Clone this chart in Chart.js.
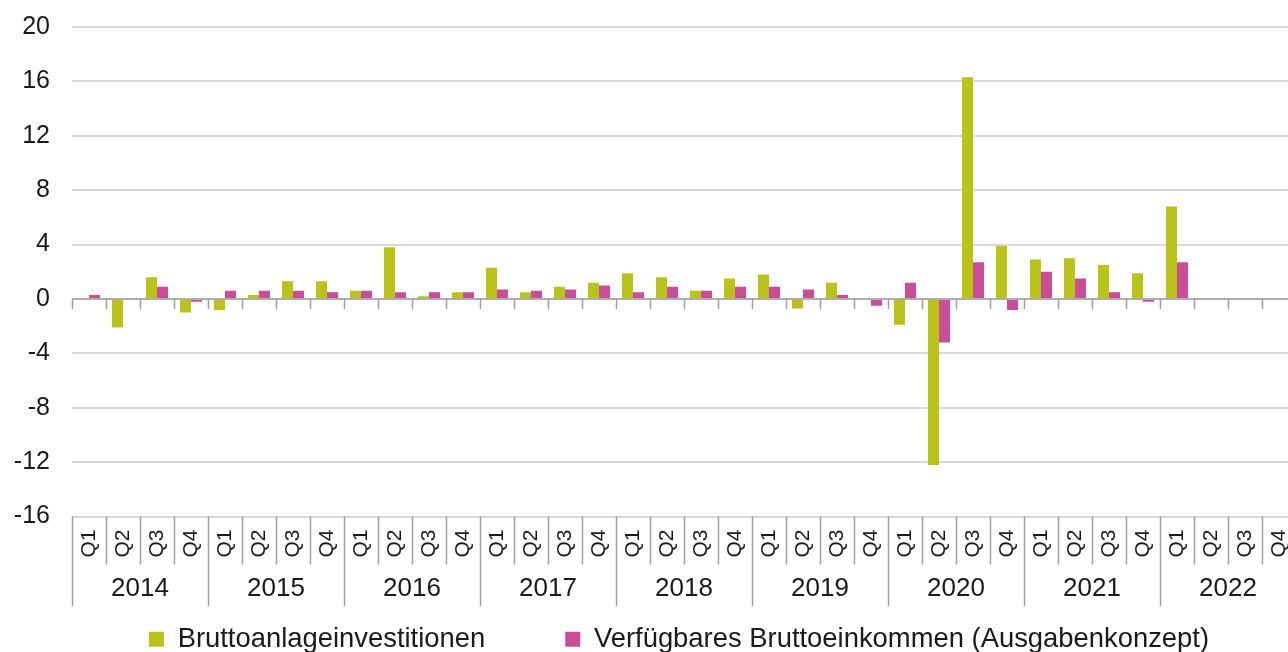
<!DOCTYPE html>
<html>
<head>
<meta charset="utf-8">
<script src="https://cdn.jsdelivr.net/npm/chart.js@4/dist/chart.umd.min.js"></script>
<style>
  html, body { margin: 0; padding: 0; background: #fff; overflow: hidden; }
  #wrap { position: absolute; left: 0; top: 0; }
</style>
</head>
<body>
<div id="wrap"><canvas id="myChart" width="1360" height="684"></canvas></div>
<script>
  const years = ['2014', '2015', '2016', '2017', '2018', '2019', '2020', '2021', '2022'];
  const quarters = ['Q1', 'Q2', 'Q3', 'Q4'];
  const yTicks = [-16, -12, -8, -4, 0, 4, 8, 12, 16, 20];

  // Veränderung ggü. Vorquartal in %
  const bruttoanlage = [0.0, -2.1, 1.6, -1.0, -0.8, 0.3, 1.3, 1.3, 0.6, 3.8, 0.2, 0.5,
    2.3, 0.5, 0.9, 1.2, 1.9, 1.6, 0.6, 1.5, 1.8, -0.7, 1.2, 0.0,
    -1.9, -12.2, 16.3, 3.9, 2.9, 3.0, 2.5, 1.9, 6.8, null, null, null];
  const einkommen = [0.3, 0.0, 0.9, -0.2, 0.6, 0.6, 0.6, 0.5, 0.6, 0.5, 0.5, 0.5,
    0.7, 0.6, 0.7, 1.0, 0.5, 0.9, 0.6, 0.9, 0.9, 0.7, 0.3, -0.5,
    1.2, -3.2, 2.7, -0.8, 2.0, 1.5, 0.5, -0.2, 2.7, null, null, null];

  const labels = [];
  years.forEach(() => quarters.forEach(q => labels.push(q)));

  const FONT = "'Liberation Sans', Arial, sans-serif";
  const lineGray = '#a0a0a0';

  // Achse bei 0 mit Teilstrichen, Trennlinien und Jahreszahlen unten
  const axisDecor = {
    id: 'axisDecor',
    afterLayout(chart) {
      // Legende etwas nach rechts/oben, wie im Original
      const lg = chart.legend;
      lg.left += 31; lg.right += 31;
      lg.top -= 21; lg.bottom -= 21;
    },
    afterDraw(chart) {
      const { ctx, chartArea, scales: { x, y } } = chart;
      const y0 = y.getPixelForValue(0);
      ctx.save();
      ctx.strokeStyle = lineGray;
      ctx.lineWidth = 1.5;
      ctx.beginPath();
      ctx.moveTo(chartArea.left, y0);
      ctx.lineTo(chartArea.right, y0);
      for (let i = 0; i <= labels.length; i++) {
        const px = Math.round(x.getPixelForValue(i - 0.5)) + 0.5;
        ctx.moveTo(px, y0);
        ctx.lineTo(px, y0 + 10);
        const len = i % 4 === 0 ? 90 : 48;
        ctx.moveTo(px, chartArea.bottom);
        ctx.lineTo(px, chartArea.bottom + len);
      }
      ctx.stroke();

      ctx.fillStyle = '#1a1a1a';
      ctx.font = '26px ' + FONT;
      ctx.textAlign = 'center';
      ctx.textBaseline = 'middle';
      years.forEach((yr, k) => {
        const cx = (x.getPixelForValue(k * 4) + x.getPixelForValue(k * 4 + 3)) / 2;
        ctx.fillText(yr, cx, chartArea.bottom + 72);
      });
      ctx.restore();
    }
  };

  const ctx = document.getElementById('myChart');

  new Chart(ctx, {
    type: 'bar',
    data: {
      labels: labels,
      datasets: [{
        label: 'Bruttoanlageinvestitionen',
        data: bruttoanlage,
        backgroundColor: '#b9c31c',
        borderWidth: 0,
        categoryPercentage: 0.65,
        barPercentage: 1.0,
      },
      {
        label: 'Verfügbares Bruttoeinkommen (Ausgabenkonzept)',
        data: einkommen,
        backgroundColor: '#c84e98',
        borderWidth: 0,
        categoryPercentage: 0.65,
        barPercentage: 1.0,
      }]
    },
    options: {
      responsive: false,
      animation: false,
      devicePixelRatio: 1,
      layout: { padding: { left: 0, right: 64, top: 27, bottom: 0 } },
      plugins: {
        tooltip: { enabled: false },
        legend: {
          position: 'bottom',
          labels: {
            boxWidth: 15,
            boxHeight: 15,
            padding: 80,
            color: '#1a1a1a',
            font: { family: FONT, size: 27.4 },
          }
        }
      },
      scales: {
        x: {
          grid: { display: false },
          border: { display: false },
          ticks: {
            autoSkip: false,
            minRotation: 90,
            maxRotation: 90,
            padding: 5,
            color: '#1a1a1a',
            font: { family: FONT, size: 21 },
          },
          afterFit(s) { s.height = 50; }
        },
        y: {
          min: -16,
          max: 20,
          afterBuildTicks(s) { s.ticks = yTicks.map(v => ({ value: v })); },
          grid: { color: '#d9d9d9', lineWidth: 2, drawTicks: true, tickLength: 22, tickColor: 'rgba(0,0,0,0)' },
          border: { display: false },
          ticks: {
            padding: 0,
            color: '#1a1a1a',
            font: { family: FONT, size: 25 },
          },
          afterFit(s) { s.width = 72; }
        }
      }
    },
    plugins: [axisDecor]
  });
</script>
</body>
</html>
